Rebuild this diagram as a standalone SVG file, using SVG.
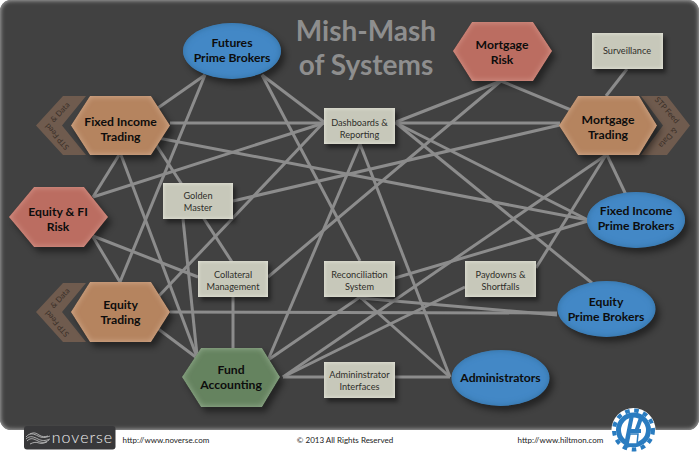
<svg xmlns="http://www.w3.org/2000/svg" width="700" height="455" viewBox="0 0 700 455">
<style>
filter{color-interpolation-filters:sRGB}
text{font-family:Lato,"Open Sans","Liberation Sans",sans-serif;text-anchor:middle}
.t{font-size:12.200px;font-weight:700;fill:#0d0d0d}
.r{font-size:9.200px;fill:#2f2f2a}
.c{font-size:7.800px;fill:#3a2f28}
.f{font-size:8px;fill:#222}
.title{font-size:28px;font-weight:700;fill:#8e8e8e}
.ln{stroke:#8c8c8c;stroke-width:3;fill:none}
.tan{fill:#b5845f;filter:url(#gTan)}
.risk{fill:#bb6d61;filter:url(#gRisk)}
.green{fill:#65835f;filter:url(#gGreen)}
.blue{fill:#4388c6;filter:url(#gBlue)}
.box{fill:#c7c8ba;filter:url(#gBox)}
.chev{fill:#6f5b4e}
</style>
<defs>
<filter id="gTan" x="-20%" y="-20%" width="150%" height="150%"><feGaussianBlur in="SourceAlpha" stdDeviation="3" result="b"/><feOffset in="b" dx="4" dy="5" result="o"/><feFlood flood-color="#000" flood-opacity=".45"/><feComposite in2="o" operator="in" result="s"/><feComposite in="SourceAlpha" in2="b" operator="arithmetic" k2=".8" k3="-.8" result="e"/><feFlood flood-color="#dcb89e"/><feComposite in2="e" operator="in" result="g"/><feMerge><feMergeNode in="s"/><feMergeNode in="SourceGraphic"/><feMergeNode in="g"/></feMerge></filter>
<filter id="gRisk" x="-20%" y="-20%" width="150%" height="150%"><feGaussianBlur in="SourceAlpha" stdDeviation="3" result="b"/><feOffset in="b" dx="4" dy="5" result="o"/><feFlood flood-color="#000" flood-opacity=".45"/><feComposite in2="o" operator="in" result="s"/><feComposite in="SourceAlpha" in2="b" operator="arithmetic" k2=".8" k3="-.8" result="e"/><feFlood flood-color="#dea499"/><feComposite in2="e" operator="in" result="g"/><feMerge><feMergeNode in="s"/><feMergeNode in="SourceGraphic"/><feMergeNode in="g"/></feMerge></filter>
<filter id="gGreen" x="-20%" y="-20%" width="150%" height="150%"><feGaussianBlur in="SourceAlpha" stdDeviation="3" result="b"/><feOffset in="b" dx="4" dy="5" result="o"/><feFlood flood-color="#000" flood-opacity=".45"/><feComposite in2="o" operator="in" result="s"/><feComposite in="SourceAlpha" in2="b" operator="arithmetic" k2=".8" k3="-.8" result="e"/><feFlood flood-color="#a9bea4"/><feComposite in2="e" operator="in" result="g"/><feMerge><feMergeNode in="s"/><feMergeNode in="SourceGraphic"/><feMergeNode in="g"/></feMerge></filter>
<filter id="gBlue" x="-20%" y="-20%" width="150%" height="150%"><feGaussianBlur in="SourceAlpha" stdDeviation="3" result="b"/><feOffset in="b" dx="4" dy="5" result="o"/><feFlood flood-color="#000" flood-opacity=".45"/><feComposite in2="o" operator="in" result="s"/><feComposite in="SourceAlpha" in2="b" operator="arithmetic" k2=".8" k3="-.8" result="e"/><feFlood flood-color="#2f6b9a"/><feComposite in2="e" operator="in" result="g"/><feMerge><feMergeNode in="s"/><feMergeNode in="SourceGraphic"/><feMergeNode in="g"/></feMerge></filter>
<filter id="gBox" x="-20%" y="-20%" width="150%" height="150%"><feGaussianBlur in="SourceAlpha" stdDeviation="2.200" result="b"/><feOffset in="b" dx="3" dy="4" result="o"/><feFlood flood-color="#000" flood-opacity=".45"/><feComposite in2="o" operator="in" result="s"/><feComposite in="SourceAlpha" in2="b" operator="arithmetic" k2="1" k3="-1" result="e"/><feFlood flood-color="#e8e8de"/><feComposite in2="e" operator="in" result="g"/><feMerge><feMergeNode in="s"/><feMergeNode in="SourceGraphic"/><feMergeNode in="g"/></feMerge></filter>
<filter id="gPanel" x="-3%" y="-3%" width="106%" height="106%"><feGaussianBlur in="SourceAlpha" stdDeviation="2.500" result="b"/><feComposite in="SourceAlpha" in2="b" operator="arithmetic" k2="1.300" k3="-1.300" result="e"/><feFlood flood-color="#a8a8a8"/><feComposite in2="e" operator="in" result="g"/><feMerge><feMergeNode in="SourceGraphic"/><feMergeNode in="g"/></feMerge></filter>
</defs>
<rect width="700" height="455" fill="#fff"/>
<rect x="0" y="0" width="699" height="430" rx="11" fill="#414141" filter="url(#gPanel)"/>
<text class="title" x="366" y="41">Mish-Mash</text>
<text class="title" x="366" y="75">of Systems</text>
<g id="connectors" class="ln">
<path d="M205 75L155 110"/><path d="M205 75L120 282"/><path d="M262 75L324 122"/><path d="M262 75L360 261"/>
<path d="M170 123H324"/><path d="M158 138L588 220"/><path d="M119 155L93 197"/><path d="M121 155L197 357"/><path d="M155 143L232 262"/>
<path d="M93 197L324 123"/><path d="M93 237L120 282"/><path d="M93 236L198 277"/>
<path d="M233 201L560 125"/><path d="M183 219L197 355"/><path d="M323 123L157 298"/>
<path d="M360 144L268 360"/><path d="M360 144L450 377"/><path d="M395 123H560"/><path d="M396 122L501 81"/><path d="M396 123L588 220"/><path d="M396 123L592 283"/>
<path d="M501 81L571 110"/><path d="M501 81L268 277"/><path d="M627 69L606 96"/><path d="M607 155L627 197"/>
<path d="M606 155L536 268"/><path d="M606 155L283 377"/><path d="M465 287L283 377"/>
<path d="M360 297L268 360"/><path d="M360 297L450 377"/><path d="M360 298L557 315"/><path d="M395 278L588 221"/>
<path d="M170 312L557 313"/><path d="M157 328L197 358"/><path d="M233 297V350"/><path d="M283 377H450"/>
</g>
<g id="fi-chevron"><polygon class="chev" points="86,96 63,96 36,125.500 63,155 86,155 62,125.500"/><text class="c" transform="translate(62,114) rotate(-47)">&amp; Data</text><text class="c" transform="translate(59,135) rotate(-131)">STP Feed</text></g>
<g id="eq-chevron"><polygon class="chev" points="86,283 63,283 36,312 63,342 86,342 62,312"/><text class="c" transform="translate(62,300) rotate(-47)">&amp; Data</text><text class="c" transform="translate(59,322) rotate(-131)">STP Feed</text></g>
<g id="mt-chevron"><polygon class="chev" points="641,96 667,96 690,125.500 667,155 641,155 663,125.500"/><text class="c" transform="translate(665,112) rotate(48)">STP Feed</text><text class="c" transform="translate(666,136) rotate(131)">&amp; Data</text></g>
<g id="futures"><ellipse class="blue" cx="232" cy="51" rx="49" ry="28"/><text class="t" x="232" y="47">Futures</text><text class="t" x="232" y="62">Prime Brokers</text></g>
<g id="mortgage-risk"><polygon class="risk" points="453,51 472,22 533,22 552,51 533,81 472,81"/><text class="t" x="502" y="49">Mortgage</text><text class="t" x="502" y="64">Risk</text></g>
<g id="surveillance"><rect class="box" x="592" y="33" width="71" height="36"/><text class="r" x="627" y="54">Surveillance</text></g>
<g id="mortgage-trading"><polygon class="tan" points="559,125.500 578,96 639,96 657,125.500 639,155 578,155"/><text class="t" x="608" y="124">Mortgage</text><text class="t" x="608" y="139">Trading</text></g>
<g id="fi-trading"><polygon class="tan" points="71,125.500 90,96 151,96 170,125.500 151,155 90,155"/><text class="t" x="120.500" y="126">Fixed Income</text><text class="t" x="120.500" y="141">Trading</text></g>
<g id="dashboards"><rect class="box" x="324" y="108" width="71" height="36"/><text class="r" x="359.500" y="126">Dashboards &amp;</text><text class="r" x="359.500" y="138">Reporting</text></g>
<g id="equity-fi-risk"><polygon class="risk" points="9,217 34,187 84,187 108,217 84,247 34,247"/><text class="t" x="58" y="216">Equity &amp; FI</text><text class="t" x="58" y="231">Risk</text></g>
<g id="golden-master"><rect class="box" x="163" y="183" width="70" height="36"/><text class="r" x="198" y="199">Golden</text><text class="r" x="198" y="211">Master</text></g>
<g id="fi-prime"><ellipse class="blue" cx="636" cy="220" rx="49" ry="28"/><text class="t" x="636" y="215">Fixed Income</text><text class="t" x="636" y="230">Prime Brokers</text></g>
<g id="collateral"><rect class="box" x="198" y="261" width="70" height="36"/><text class="r" x="233" y="278">Collateral</text><text class="r" x="233" y="290">Management</text></g>
<g id="reconciliation"><rect class="box" x="324" y="261" width="71" height="36"/><text class="r" x="359.500" y="278">Reconciliation</text><text class="r" x="359.500" y="290">System</text></g>
<g id="paydowns"><rect class="box" x="465" y="261" width="71" height="36"/><text class="r" x="500.500" y="278">Paydowns &amp;</text><text class="r" x="500.500" y="290">Shortfalls</text></g>
<g id="equity-trading"><polygon class="tan" points="71,312 90,282 151,282 170,312 151,342 90,342"/><text class="t" x="120.500" y="309">Equity</text><text class="t" x="120.500" y="324">Trading</text></g>
<g id="equity-prime"><ellipse class="blue" cx="606.500" cy="309" rx="49" ry="28"/><text class="t" x="606" y="306">Equity</text><text class="t" x="606" y="321">Prime Brokers</text></g>
<g id="fund-accounting"><polygon class="green" points="182,377 201,348 262,348 280,377 262,407 201,407"/><text class="t" x="231" y="374">Fund</text><text class="t" x="231" y="389">Accounting</text></g>
<g id="admin-interfaces"><rect class="box" x="324" y="362" width="71" height="36"/><text class="r" x="359.500" y="378">Admininstrator</text><text class="r" x="359.500" y="390">Interfaces</text></g>
<g id="administrators"><ellipse class="blue" cx="500.500" cy="378" rx="49" ry="28"/><text class="t" x="500.500" y="382">Administrators</text></g>
<g id="footer">
<rect x="24" y="426" width="91.500" height="23.500" rx="3" fill="#38383a"/>
<g fill="none" stroke="#c9c9c9" stroke-width=".8"><path d="M26 437c4-5 8-3 12-1s7 2 12 0"/><path d="M26 439c4-4 8-2 12 0s7 2 12 0"/><path d="M27 441c4-4 7-2 11 0s7 2 11-1"/><path d="M30 434c4-2 6-1 9 1s6 2 9 1"/><path d="M30 444c4-2 6-2 9-1s5 0 8-1"/></g>
<text x="82.500" y="443" font-size="16" font-weight="300" letter-spacing="1" fill="#eee">noverse</text>
<text class="f" x="166" y="443">http://www.noverse.com</text>
<text class="f" x="345" y="443">© 2013 All Rights Reserved</text>
<text class="f" x="560.500" y="443">http://www.hiltmon.com</text>
<g id="hiltmon-logo">
<circle cx="633.500" cy="430" r="22" fill="#fff"/>
<circle cx="633.500" cy="430" r="19.500" fill="none" stroke="#2a7cc0" stroke-width="4" stroke-dasharray="4.600 4.600"/>
<circle cx="633.500" cy="430" r="15" fill="#fff" stroke="#2a7cc0" stroke-width="5"/>
<path d="M626 445L632 415M642 415L636 432M630 445L625 446M627 431H641" fill="none" stroke="#2a7cc0" stroke-width="4"/>
<path d="M630 434h8l-1 10h-9z" fill="#fff" stroke="#2a7cc0" stroke-width="1.500"/>
</g>
</g>
</svg>
